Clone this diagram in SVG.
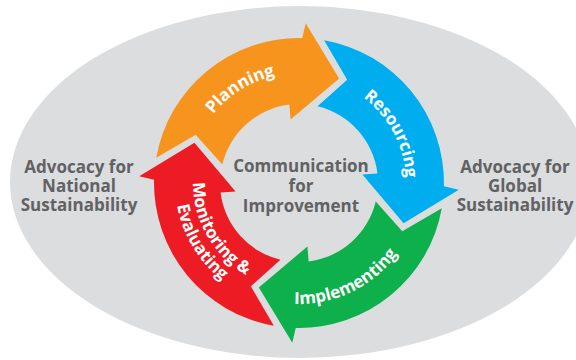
<svg xmlns="http://www.w3.org/2000/svg" xmlns:xlink="http://www.w3.org/1999/xlink" width="576" height="360" viewBox="0 0 576 360">
  <style>
    .lbl { font-family: "Open Sans", "Liberation Sans", sans-serif; font-weight: 700; fill: #ffffff; font-size: 17px; }
    .side { font-family: "Open Sans", "Liberation Sans", sans-serif; font-weight: 700; fill: #616264; font-size: 17px; text-anchor: middle; }
  </style>
  <defs>
    <path id="arrow" d="M-27.7,-142.3 A145,145 0 0,1 136.5,-48.9 L151.6,-51.0 L112,0 L56.2,-30.6 L69.8,-37.1 A79,79 0 0,0 -10.2,-78.3 L7.96,-113.7 Z"/>
    <path id="pPlan" d="M189.07,186.84 A110,110 0 0,1 350.64,85.88"/>
    <path id="pRes" d="M302.73,76.07 A107,107 0 0,1 389.74,239.70"/>
    <path id="pImp" d="M231.34,283.31 A121,121 0 0,0 419.71,191.44"/>
    <path id="pMon" d="M207.2,130 A106,106 0 0,0 299,289"/>
    <path id="pEva" d="M190.55,122.88 A124,124 0 0,0 301.16,306.98"/>
  </defs>
  <rect width="576" height="360" fill="#ffffff"/>
  <g id="background">
    <ellipse cx="300" cy="182" rx="290" ry="176" fill="#dcddde"/>
  </g>
  <g id="connectors"></g>
  <g id="planning">
    <use xlink:href="#arrow" href="#arrow" fill="#f7941d" transform="translate(299,183) rotate(-69)"/>
    <text class="lbl" font-size="17.5"><textPath xlink:href="#pPlan" href="#pPlan" startOffset="50%" text-anchor="middle">Planning</textPath></text>
  </g>
  <g id="resourcing">
    <use xlink:href="#arrow" href="#arrow" fill="#00aeef" transform="translate(299,183) rotate(21)"/>
    <text class="lbl"><textPath xlink:href="#pRes" href="#pRes" startOffset="50%" text-anchor="middle">Resourcing</textPath></text>
  </g>
  <g id="implementing">
    <use xlink:href="#arrow" href="#arrow" fill="#0db04b" transform="translate(299,183) rotate(111)"/>
    <text class="lbl"><textPath xlink:href="#pImp" href="#pImp" startOffset="50%" text-anchor="middle">Implementing</textPath></text>
  </g>
  <g id="monitoring">
    <use xlink:href="#arrow" href="#arrow" fill="#ed1c24" transform="translate(299,183) rotate(201)"/>
    <text class="lbl"><textPath xlink:href="#pMon" href="#pMon" startOffset="50%" text-anchor="middle">Monitoring &amp;</textPath></text>
    <text class="lbl"><textPath xlink:href="#pEva" href="#pEva" startOffset="50%" text-anchor="middle">Evaluating</textPath></text>
  </g>
  <g id="center">
    <text class="side" x="301" y="172">Communication</text>
    <text class="side" x="301" y="192">for</text>
    <text class="side" x="301" y="212">Improvement</text>
  </g>
  <g id="national">
    <text class="side" x="79" y="173">Advocacy for</text>
    <text class="side" x="79" y="192">National</text>
    <text class="side" x="79" y="211">Sustainability</text>
  </g>
  <g id="global">
    <text class="side" x="515" y="173">Advocacy for</text>
    <text class="side" x="515" y="192">Global</text>
    <text class="side" x="515" y="211">Sustainability</text>
  </g>
</svg>
